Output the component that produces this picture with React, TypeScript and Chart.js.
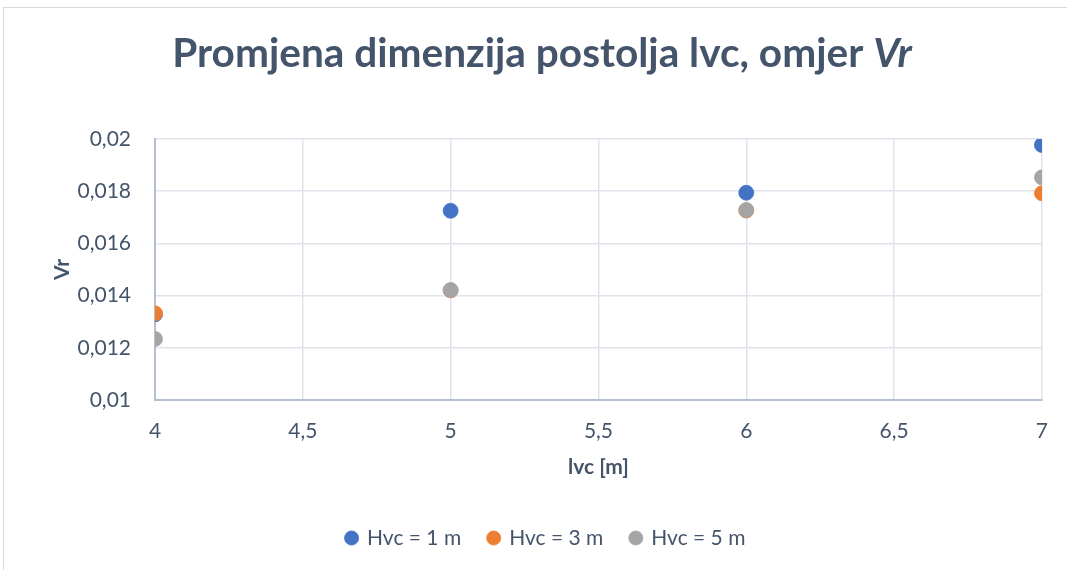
import React, { useEffect, useRef } from "react";
import { Chart, registerables } from "chart.js";

Chart.register(...registerables);

const xValues = [4, 5, 6, 7];
const hvc1 = [0.01328, 0.01725, 0.01794, 0.01977];
const hvc3 = [0.01332, 0.01420, 0.01726, 0.01792];
const hvc5 = [0.01234, 0.01421, 0.01728, 0.01853];
const seriesNames = ["Hvc = 1 m", "Hvc = 3 m", "Hvc = 5 m"];
const seriesColors = ["#4472c4", "#ed7d31", "#a5a5a5"];
const titleMain = "Promjena dimenzija postolja lvc, omjer ";
const titleItalic = "Vr";
const xTitle = "lvc [m]";
const yTitle = "Vr";

const FONT = "Lato, 'Open Sans', sans-serif";
const TEXT = "#44546a";
const FS = 21;

const titlePlugin = {
  id: "mixedTitle",
  afterDraw(chart: any) {
    const ctx = chart.ctx;
    ctx.save();
    const size = 40.6;
    ctx.textBaseline = "middle";
    ctx.fillStyle = TEXT;
    ctx.font = `bold ${size}px ${FONT}`;
    const w1 = ctx.measureText(titleMain).width;
    ctx.font = `italic bold ${size}px ${FONT}`;
    const w2 = ctx.measureText(titleItalic).width;
    const cx = 542;
    const start = cx - (w1 + w2) / 2;
    ctx.textAlign = "left";
    ctx.font = `bold ${size}px ${FONT}`;
    ctx.fillText(titleMain, start, 54);
    ctx.font = `italic bold ${size}px ${FONT}`;
    ctx.fillText(titleItalic, start + w1, 54);
    ctx.restore();
  },
};

const toPts = (ys: number[]) => xValues.map((x, i) => ({ x, y: ys[i] }));
const fmt = (v: number) => String(Number(v.toFixed(4))).replace(".", ",");

export default function App() {
  const ref = useRef<HTMLCanvasElement>(null);
  useEffect(() => {
    document.body.style.margin = "0";
    const all = [hvc1, hvc3, hvc5];
    const chart = new Chart(ref.current!, {
      type: "scatter",
      data: {
        datasets: all.map((d, i) => ({
          label: seriesNames[i],
          data: toPts(d),
          backgroundColor: seriesColors[i],
          borderColor: seriesColors[i],
          pointRadius: 7.5,
          pointBorderWidth: 0.75,
          order: 3 - i,
        })),
      },
      options: {
        animation: false,
        responsive: false,
        layout: { padding: { top: 139, left: 50, right: 25, bottom: 11.5 } },
        plugins: {
          title: { display: false },
          tooltip: { enabled: false },
          legend: {
            position: "bottom",
            labels: {
              usePointStyle: true,
              pointStyle: "circle",
              boxWidth: 10,
              boxHeight: 10,
              padding: 27.5,
              color: TEXT,
              font: { family: FONT, size: FS },
              sort: (a: any, b: any) => a.datasetIndex - b.datasetIndex,
            },
          },
        },
        scales: {
          x: {
            type: "linear",
            min: 4,
            max: 7,
            afterFit: (s: any) => { s.height = 100; },
            ticks: {
              stepSize: 0.5,
              padding: 19,
              color: TEXT,
              font: { family: FONT, size: FS },
              callback: (v: any) => fmt(Number(v)),
            },
            grid: { color: "#dfe4ec", drawTicks: false, lineWidth: 1.5 },
            border: { color: "#b4c0d0", width: 2 },
            title: {
              display: true,
              text: xTitle,
              color: TEXT,
              font: { family: FONT, size: FS, weight: "bold" },
              padding: { top: 4, bottom: 20.4 },
            },
          },
          y: {
            type: "linear",
            min: 0.01,
            max: 0.02,
            afterFit: (s: any) => { s.width = 105; },
            ticks: {
              stepSize: 0.002,
              padding: 24,
              color: TEXT,
              font: { family: FONT, size: FS },
              callback: (v: any) => fmt(Number(v)),
            },
            grid: { color: "#dfe4ec", drawTicks: false, lineWidth: 1.5 },
            border: { color: "#b4c0d0", width: 2 },
            title: {
              display: true,
              text: yTitle,
              color: TEXT,
              font: { family: FONT, size: FS, weight: "bold" },
              padding: { top: 0, bottom: 0 },
            },
          },
        },
      },
      plugins: [titlePlugin],
    } as any);
    return () => chart.destroy();
  }, []);

  return (
    <div style={{ position: "relative", width: 1067, height: 570, overflow: "hidden", background: "#fff" }}>
      <div
        style={{
          position: "absolute",
          left: 3,
          top: 7,
          width: 1100,
          height: 600,
          border: "1px solid #d9d9d9",
          boxSizing: "border-box",
        }}
      />
      <canvas ref={ref} width={1067} height={570} style={{ position: "absolute", left: 0, top: 0 }} />
    </div>
  );
}
